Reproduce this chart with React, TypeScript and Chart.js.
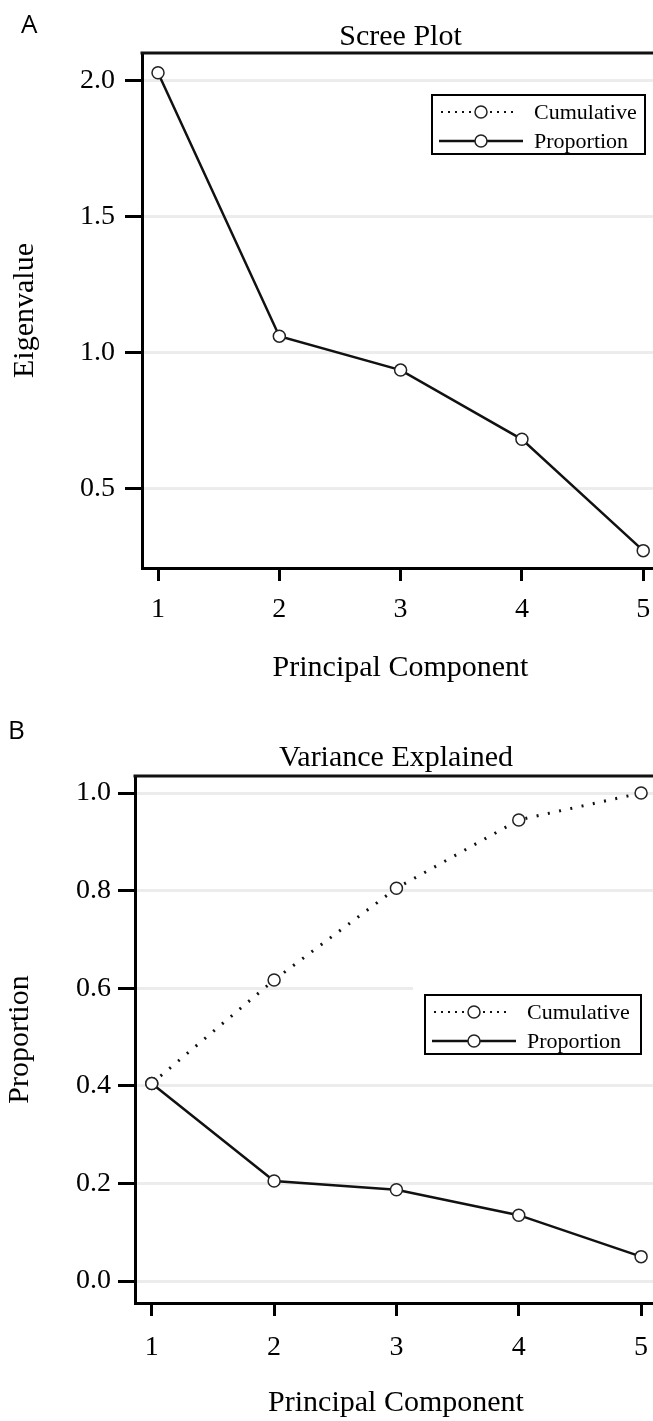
import React, { useEffect, useRef } from 'react';
import { Chart, registerables } from 'chart.js';

Chart.register(...registerables);

// ---------- data ----------
const components = [1, 2, 3, 4, 5];
const xTickValues = [1, 2, 3, 4, 5];
const xTickLabels = ['1', '2', '3', '4', '5'];

const eigenvalues = [2.03, 1.06, 0.935, 0.68, 0.27];
const eigenTickValues = [0.5, 1.0, 1.5, 2.0];
const eigenTickLabels = ['0.5', '1.0', '1.5', '2.0'];

const cumulative = [0.405, 0.617, 0.805, 0.945, 1.0];
const proportion = [0.405, 0.205, 0.187, 0.135, 0.05];
const propTickValues = [0.0, 0.2, 0.4, 0.6, 0.8, 1.0];
const propTickLabels = ['0.0', '0.2', '0.4', '0.6', '0.8', '1.0'];

const legendLabels = ['Cumulative', 'Proportion'];

// ---------- styles ----------
const SERIF = '"Liberation Serif", "Times New Roman", serif';
const SANS = '"Open Sans", "Liberation Sans", Arial, sans-serif';

type SeriesCfg = { values: number[]; dotted: boolean; label: string };

type PanelCfg = {
  width: number;
  height: number;
  letter: string;
  letterX: number;
  letterY: number;
  title: string;
  titleY: number;
  padTop: number;
  padRight: number;
  yWidth: number;
  xHeight: number;
  xMin: number;
  xMax: number;
  yMin: number;
  yMax: number;
  yTicks: number[];
  yTickLabels: string[];
  yTitle: string;
  yTitlePad: number;
  yTickPad: number;
  xTickPad: number;
  xTitlePadBottom: number;
  series: SeriesCfg[];
  legend: { x: number; y: number; w: number; h: number };
};

const panelA: PanelCfg = {
  width: 670,
  height: 700,
  letter: 'A',
  letterX: 21,
  letterY: 26,
  title: 'Scree Plot',
  titleY: 37,
  padTop: 53,
  padRight: 11,
  yWidth: 142,
  xHeight: 132,
  xMin: 0.868,
  xMax: 5.13,
  yMin: 0.206,
  yMax: 2.103,
  yTicks: eigenTickValues,
  yTickLabels: eigenTickLabels,
  yTitle: 'Eigenvalue',
  yTitlePad: 7,
  yTickPad: 10,
  xTickPad: 12,
  xTitlePadBottom: 14,
  series: [{ values: eigenvalues, dotted: false, label: legendLabels[1] }],
  legend: { x: 432, y: 95, w: 213, h: 59 },
};

const panelB: PanelCfg = {
  width: 670,
  height: 721,
  letter: 'B',
  letterX: 8,
  letterY: 32,
  title: 'Variance Explained',
  titleY: 58,
  padTop: 76,
  padRight: 13,
  yWidth: 135,
  xHeight: 118,
  xMin: 0.863,
  xMax: 5.13,
  yMin: -0.045,
  yMax: 1.035,
  yTicks: propTickValues,
  yTickLabels: propTickLabels,
  yTitle: 'Proportion',
  yTitlePad: 2,
  yTickPad: 7,
  xTickPad: 15,
  xTitlePadBottom: 0,
  series: [
    { values: cumulative, dotted: true, label: legendLabels[0] },
    { values: proportion, dotted: false, label: legendLabels[1] },
  ],
  legend: { x: 425, y: 295, w: 216, h: 59 },
};

function drawMarker(ctx: CanvasRenderingContext2D, x: number, y: number) {
  ctx.beginPath();
  ctx.arc(x, y, 6, 0, Math.PI * 2);
  ctx.fillStyle = '#fff';
  ctx.fill();
  ctx.lineWidth = 1.5;
  ctx.strokeStyle = '#222';
  ctx.setLineDash([]);
  ctx.stroke();
}

function makeDecorPlugin(cfg: PanelCfg) {
  return {
    id: 'decor' + cfg.letter,
    afterDraw(chart: any) {
      const ctx: CanvasRenderingContext2D = chart.ctx;
      const area = chart.chartArea;
      ctx.save();
      // frame (top and right)
      ctx.strokeStyle = '#111';
      ctx.lineWidth = 3;
      ctx.setLineDash([]);
      ctx.beginPath();
      ctx.moveTo(area.left - 1.5, area.top);
      ctx.lineTo(area.right, area.top);
      ctx.lineTo(area.right, area.bottom);
      ctx.stroke();

      // panel letter
      ctx.fillStyle = '#000';
      ctx.font = `26px ${SANS}`;
      ctx.textAlign = 'left';
      ctx.textBaseline = 'middle';
      ctx.fillText(cfg.letter, cfg.letterX, cfg.letterY);

      // title
      ctx.font = `30px ${SERIF}`;
      ctx.textAlign = 'center';
      ctx.fillText(cfg.title, (area.left + area.right) / 2, cfg.titleY);

      // legend
      const { x, y, w, h } = cfg.legend;
      ctx.fillStyle = '#fff';
      ctx.fillRect(x - 12, y - 8, w + 24, h + 16);
      ctx.strokeStyle = '#000';
      ctx.lineWidth = 2;
      ctx.strokeRect(x, y, w, h);
      legendLabels.forEach((label, i) => {
        const cy = y + 17 + i * 29;
        ctx.beginPath();
        ctx.strokeStyle = '#111';
        if (i === 0) {
          ctx.lineWidth = 2;
          ctx.setLineDash([2, 5]);
          ctx.moveTo(x + 9, cy);
          ctx.lineTo(x + 84, cy);
        } else {
          ctx.lineWidth = 2.5;
          ctx.setLineDash([]);
          ctx.moveTo(x + 7, cy);
          ctx.lineTo(x + 91, cy);
        }
        ctx.stroke();
        ctx.setLineDash([]);
        drawMarker(ctx, x + 49, cy);
        ctx.fillStyle = '#000';
        ctx.font = `22px ${SERIF}`;
        ctx.textAlign = 'left';
        ctx.textBaseline = 'middle';
        ctx.fillText(label, x + 102, cy + 1);
      });
      ctx.restore();
    },
  };
}

function Panel({ cfg }: { cfg: PanelCfg }) {
  const ref = useRef<HTMLCanvasElement>(null);
  useEffect(() => {
    const canvas = ref.current;
    if (!canvas) return;
    const datasets = cfg.series.map((s) => ({
      label: s.label,
      data: components.map((c, i) => ({ x: c, y: s.values[i] })),
      borderColor: '#111',
      borderWidth: s.dotted ? 3 : 2.5,
      borderDash: s.dotted ? [2, 9.5] : [],
      tension: 0,
      fill: false,
      pointStyle: 'circle',
      pointRadius: 6,
      pointHoverRadius: 6,
      pointBorderWidth: 1.5,
      pointBorderColor: '#222',
      pointBackgroundColor: '#fff',
    }));
    const chart = new Chart(canvas, {
      type: 'line',
      data: { datasets },
      options: {
        animation: false,
        responsive: false,
        devicePixelRatio: 1,
        layout: { padding: { top: cfg.padTop, right: cfg.padRight, left: 0, bottom: 0 } },
        plugins: {
          legend: { display: false },
          title: { display: false },
          tooltip: { enabled: false },
        },
        scales: {
          x: {
            type: 'linear',
            min: cfg.xMin,
            max: cfg.xMax,
            afterBuildTicks: (scale: any) => {
              scale.ticks = xTickValues.map((v) => ({ value: v }));
            },
            afterFit: (scale: any) => {
              scale.height = cfg.xHeight;
            },
            ticks: {
              callback: (_v: any, i: number) => xTickLabels[i],
              font: { family: SERIF, size: 28 },
              color: '#000',
              padding: cfg.xTickPad,
              maxRotation: 0,
              autoSkip: false,
            },
            grid: {
              drawOnChartArea: false,
              drawTicks: true,
              tickLength: 13,
              tickColor: '#000',
              tickWidth: 3,
            },
            border: { display: true, color: '#000', width: 3 },
            title: {
              display: true,
              text: 'Principal Component',
              font: { family: SERIF, size: 30 },
              color: '#000',
              padding: { top: 0, bottom: cfg.xTitlePadBottom },
            },
          },
          y: {
            type: 'linear',
            min: cfg.yMin,
            max: cfg.yMax,
            afterBuildTicks: (scale: any) => {
              scale.ticks = cfg.yTicks.map((v) => ({ value: v }));
            },
            afterFit: (scale: any) => {
              scale.width = cfg.yWidth;
            },
            ticks: {
              callback: (_v: any, i: number) => cfg.yTickLabels[i],
              font: { family: SERIF, size: 28 },
              color: '#000',
              padding: cfg.yTickPad,
              autoSkip: false,
            },
            grid: {
              drawOnChartArea: true,
              color: '#ececec',
              lineWidth: 3,
              drawTicks: true,
              tickLength: 17,
              tickColor: '#000',
              tickWidth: 3,
            },
            border: { display: true, color: '#000', width: 3 },
            title: {
              display: true,
              text: cfg.yTitle,
              font: { family: SERIF, size: 30 },
              color: '#000',
              padding: { top: cfg.yTitlePad, bottom: 0 },
            },
          },
        },
      },
      plugins: [makeDecorPlugin(cfg)],
    } as any);
    return () => chart.destroy();
  }, [cfg]);
  return (
    <canvas
      ref={ref}
      width={cfg.width}
      height={cfg.height}
      style={{ display: 'block', width: cfg.width, height: cfg.height }}
    />
  );
}

export default function App() {
  return (
    <div
      style={{
        position: 'absolute',
        left: 0,
        top: 0,
        width: 653,
        height: 1421,
        overflow: 'hidden',
        background: '#fff',
      }}
    >
      <Panel cfg={panelA} />
      <Panel cfg={panelB} />
    </div>
  );
}
